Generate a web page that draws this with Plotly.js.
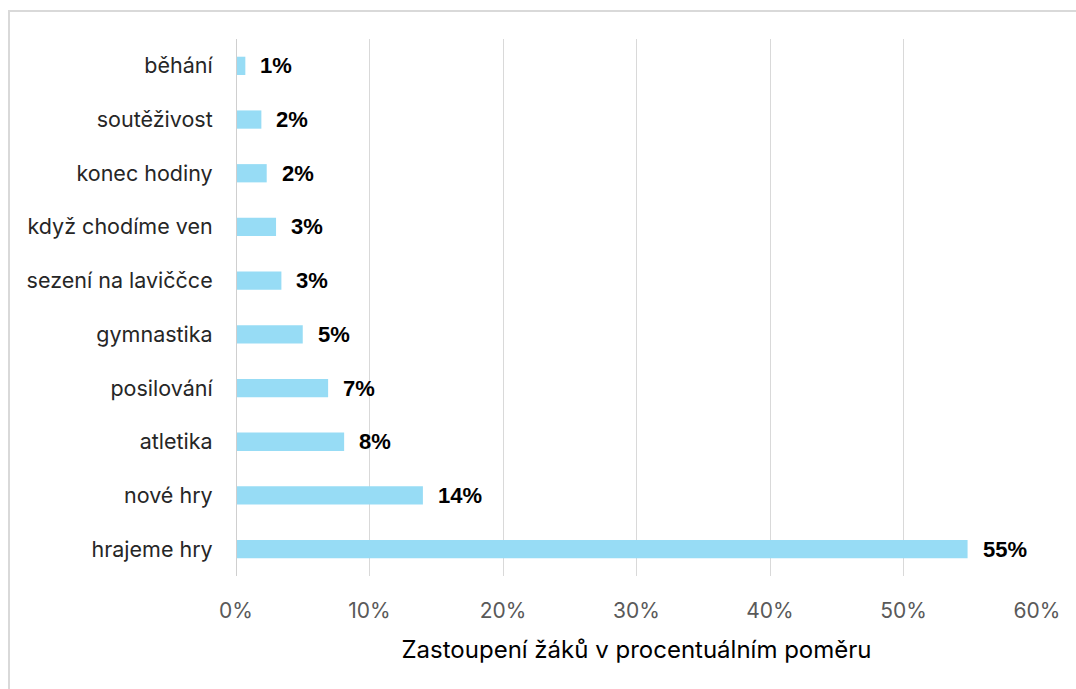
<!DOCTYPE html>
<html>
<head>
<meta charset="utf-8">
<script src="https://cdn.plot.ly/plotly-3.0.1.min.js"></script>
<style>
  html, body { margin: 0; padding: 0; background: #fff; overflow: hidden; }
  #chart { width: 1076px; height: 689px; }
  #frame { position: absolute; left: 8px; top: 10px; width: 1200px; height: 800px;
           border: 2px solid #d9d9d9; pointer-events: none; box-sizing: border-box; }
</style>
</head>
<body>
<div id="chart"></div>
<div id="frame"></div>
<script>
const categories = ["hrajeme hry", "nové hry", "atletika", "posilování", "gymnastika",
  "sezení na laviččce", "když chodíme ven", "konec hodiny", "soutěživost", "běhání"];
const values = [54.8, 14.0, 8.1, 6.9, 5.0, 3.4, 3.0, 2.3, 1.9, 0.7];
const valueLabels = ["55%", "14%", "8%", "7%", "5%", "3%", "3%", "2%", "2%", "1%"];
const xTickVals = [0, 10, 20, 30, 40, 50, 60];
const xTickText = ["0%", "10%", "20%", "30%", "40%", "50%", "60%"];

const trace = {
  type: "bar",
  orientation: "h",
  y: categories,
  x: values,
  width: 0.34,
  marker: { color: "#97dcf5" },
  hoverinfo: "skip"
};

const annotations = categories.map((c, i) => ({
  x: values[i], y: c, xref: "x", yref: "y",
  text: "<b>" + valueLabels[i] + "</b>",
  showarrow: false, xanchor: "left", yanchor: "middle", xshift: 13,
  font: { family: "Liberation Sans, Arial, sans-serif", size: 22, color: "#000" }
}));

const layout = {
  width: 1076, height: 689,
  margin: { l: 235.5, r: 38.7, t: 39, b: 113 },
  paper_bgcolor: "rgba(0,0,0,0)",
  plot_bgcolor: "rgba(0,0,0,0)",
  showlegend: false,
  xaxis: {
    range: [0, 60],
    tickvals: xTickVals, ticktext: xTickText,
    showgrid: true, gridcolor: "#d9d9d9", gridwidth: 1,
    zeroline: false, showline: false,
    ticks: "outside", ticklen: 16, tickcolor: "rgba(0,0,0,0)",
    tickfont: { family: "Inter, Open Sans, sans-serif", size: 21, color: "#595959" },
    title: { text: "Zastoupení žáků v procentuálním poměru", standoff: 18,
             font: { family: "Inter, Open Sans, sans-serif", size: 24, color: "#000" } },
    fixedrange: true
  },
  yaxis: {
    categoryorder: "array", categoryarray: categories,
    showgrid: false, zeroline: false,
    showline: false,
    ticks: "outside", ticklen: 18, tickcolor: "rgba(0,0,0,0)",
    tickfont: { family: "Inter, Open Sans, sans-serif", size: 21.5, color: "#262626" },
    fixedrange: true
  },
  shapes: [{
    type: "line", xref: "x", yref: "paper", x0: 0, x1: 0, y0: 0, y1: 1,
    line: { color: "#cfcfcf", width: 2 }
  }],
  annotations: annotations
};

Plotly.newPlot("chart", [trace], layout, { displayModeBar: false, staticPlot: true });
</script>
</body>
</html>
